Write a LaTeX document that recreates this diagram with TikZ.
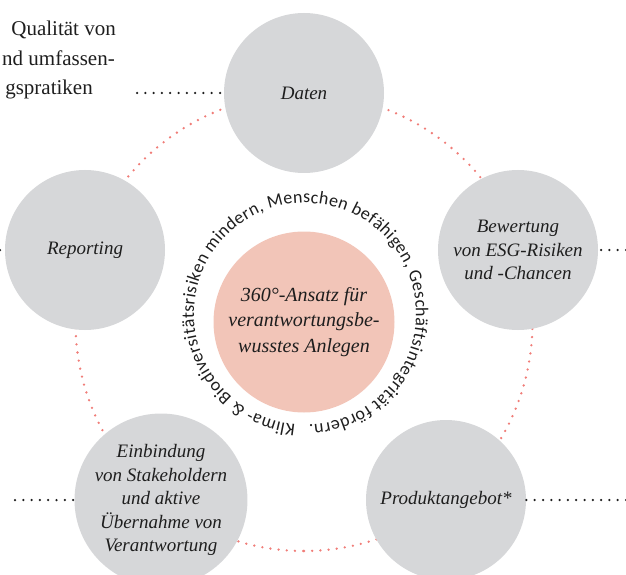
\documentclass[tikz,border=0pt]{standalone}
\usepackage{fontspec}
\setmainfont{Liberation Serif}
\newfontfamily\ringfont{Carlito}
\usetikzlibrary{decorations.text}

\definecolor{discgrey}{HTML}{D6D7D9}
\definecolor{corepink}{HTML}{F2C5B8}
\definecolor{ringdot}{HTML}{F07D78}
\definecolor{inktext}{HTML}{1E1E1E}

\begin{document}
\begin{tikzpicture}[
    x=1pt, y=1pt,
    topicdisc/.style={
        circle, fill=discgrey,
        minimum size=160pt, inner sep=0pt,
        align=center, text=inktext,
        font=\itshape\fontsize{19}{23.5}\selectfont
    },
    coredisc/.style={
        circle, fill=corepink,
        minimum size=181pt, inner sep=0pt,
        align=center, text=inktext,
        font=\itshape\fontsize{20}{25.5}\selectfont
    },
    notetext/.style={
        anchor=base east, inner sep=0pt, text=inktext,
        font=\fontsize{21}{29.5}\selectfont
    },
    ringline/.style={
        draw=ringdot, line width=2.6pt, line cap=round,
        dash pattern=on 0pt off 8.2pt
    },
    leadline/.style={
        draw=inktext, line width=2.5pt, line cap=round,
        dash pattern=on 0pt off 8.3pt
    }
]
\useasboundingbox (0,0) rectangle (626,574);
\clip (0,0) rectangle (626,574);

% dotted ring behind the discs
\draw[ringline] (304,251.5) ++(-90:228.5) arc[start angle=-90, end angle=270, radius=228.5];

\node[topicdisc] (daten) at (304,481) {Daten};
\node[topicdisc] (bewertung) at (518,324) {Bewertung\\von ESG-Risiken\\und -Chancen};
\node[topicdisc] (reporting) at (85,324) {Reporting};
\node[topicdisc] (einbindung) at (161,74) {Einbindung\\von Stakeholdern\\und aktive\\Übernahme von\\Verantwortung};
\node[topicdisc] (produkt) at (446,74) {Produktangebot*};

\node[coredisc] (ansatz) at (304,252) {360°-Ansatz für\\verantwortungsbe-\\wusstes Anlegen};

% text round the centre
\path[decorate, decoration={text along path, text align={fit to path}, text color=inktext,
    text={|\ringfont\fontsize{18}{18}\selectfont|Klima- {\&} Biodiversitätsrisiken mindern, Menschen befähigen, Geschäftsintegrität fördern.}}]
    (305,260) ++(265:111) arc[start angle=265, end angle=-88, radius=111];

% side notes (cut at the edge)
\node[notetext] (note1) at (116,538) {Qualität von};
\node[notetext] (note2) at (115,508) {nd umfassen-};
\node[notetext] (note3) at (93,479) {gspratiken};

\coordinate (datenend) at (137,481);
\coordinate (reportend) at (0,324);
\coordinate (bewertend) at (626,324);
\coordinate (einbindend) at (15,74);
\coordinate (produktend) at (626,74);

\draw[leadline] (datenend) -- (daten.west);
\draw[leadline] (reportend) -- (reporting.west);
\draw[leadline] (bewertend) -- (bewertung.east);
\draw[leadline] (einbindend) -- (einbindung.west);
\draw[leadline] (produktend) -- (produkt.east);

\end{tikzpicture}
\end{document}
